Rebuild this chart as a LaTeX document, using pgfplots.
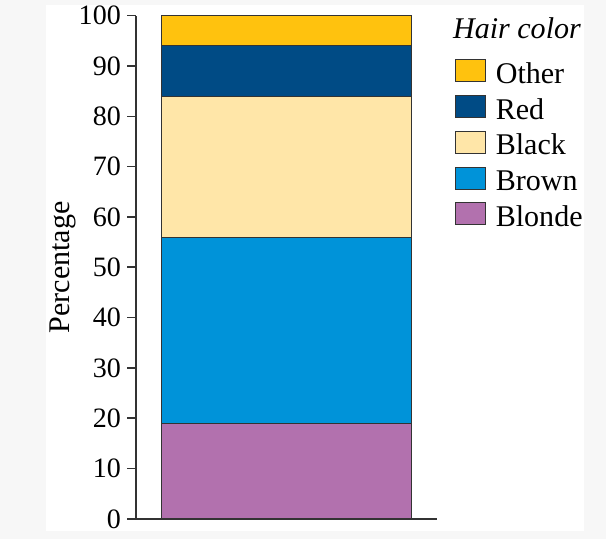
\documentclass[border=0pt]{standalone}
\usepackage{pgfplots}
\pgfplotsset{compat=1.18}
\usepackage{fontspec}
\setmainfont{Liberation Serif}
\definecolor{cOther}{HTML}{FFC20E}
\definecolor{cRed}{HTML}{004B85}
\definecolor{cBlack}{HTML}{FFE6A8}
\definecolor{cBrown}{HTML}{0093D9}
\definecolor{cBlonde}{HTML}{B271AE}
\definecolor{axisgray}{HTML}{333333}
\definecolor{bggray}{HTML}{F7F7F7}
\begin{document}
\begin{tikzpicture}
\path[use as bounding box, fill=bggray] (-68pt,-10pt) rectangle (234.5pt,259pt);
\fill[white] (-45pt,-6pt) rectangle (223.5pt,256.5pt);
\begin{axis}[
  at={(0pt,0pt)}, anchor=south west,
  width=150pt, height=251.2pt, scale only axis,
  xmin=-0.6, xmax=0.6, ymin=0, ymax=100,
  axis lines=left,
  axis line style={-, line width=0.75pt, color=axisgray},
  ytick={0,10,...,100}, xtick=\empty,
  tick align=outside, major tick length=4.5pt,
  tick style={line width=0.75pt, color=axisgray},
  yticklabel style={inner sep=0pt, xshift=-3pt, font=\fontsize{14}{16}\selectfont},
  ylabel={Percentage},
  ylabel style={at={(axis description cs:-0.2233,0.5)}, anchor=base, inner sep=0pt, font=\fontsize{15}{17}\selectfont},
  ybar stacked, bar width=1,
  /pgf/number format/assume math mode=true,
  every axis plot/.append style={legend image code/.code={\draw[#1] (0pt,-3.6pt) rectangle (15pt,7.25pt);}},
  legend style={at={(1.06,0.9136)}, anchor=north west, draw=none, fill=none,
    inner sep=0pt, outer sep=0pt, row sep=4.5pt, column sep=5pt,
    nodes={inner sep=0pt}, font=\fontsize{15}{17}\selectfont},
  legend cell align=left,
  reverse legend,
]
\addplot[fill=cBlonde, draw=axisgray, line width=0.5pt] coordinates {(0,19)};
\addlegendentry{Blonde}
\addplot[fill=cBrown, draw=axisgray, line width=0.5pt] coordinates {(0,37)};
\addlegendentry{Brown}
\addplot[fill=cBlack, draw=axisgray, line width=0.5pt] coordinates {(0,28)};
\addlegendentry{Black}
\addplot[fill=cRed, draw=axisgray, line width=0.5pt] coordinates {(0,10)};
\addlegendentry{Red}
\addplot[fill=cOther, draw=axisgray, line width=0.5pt] coordinates {(0,6)};
\addlegendentry{Other}
\end{axis}
\node[anchor=base west, inner sep=0pt, font=\fontsize{15}{17}\selectfont\itshape] at (158pt,239.85pt) {Hair color};
\end{tikzpicture}
\end{document}
